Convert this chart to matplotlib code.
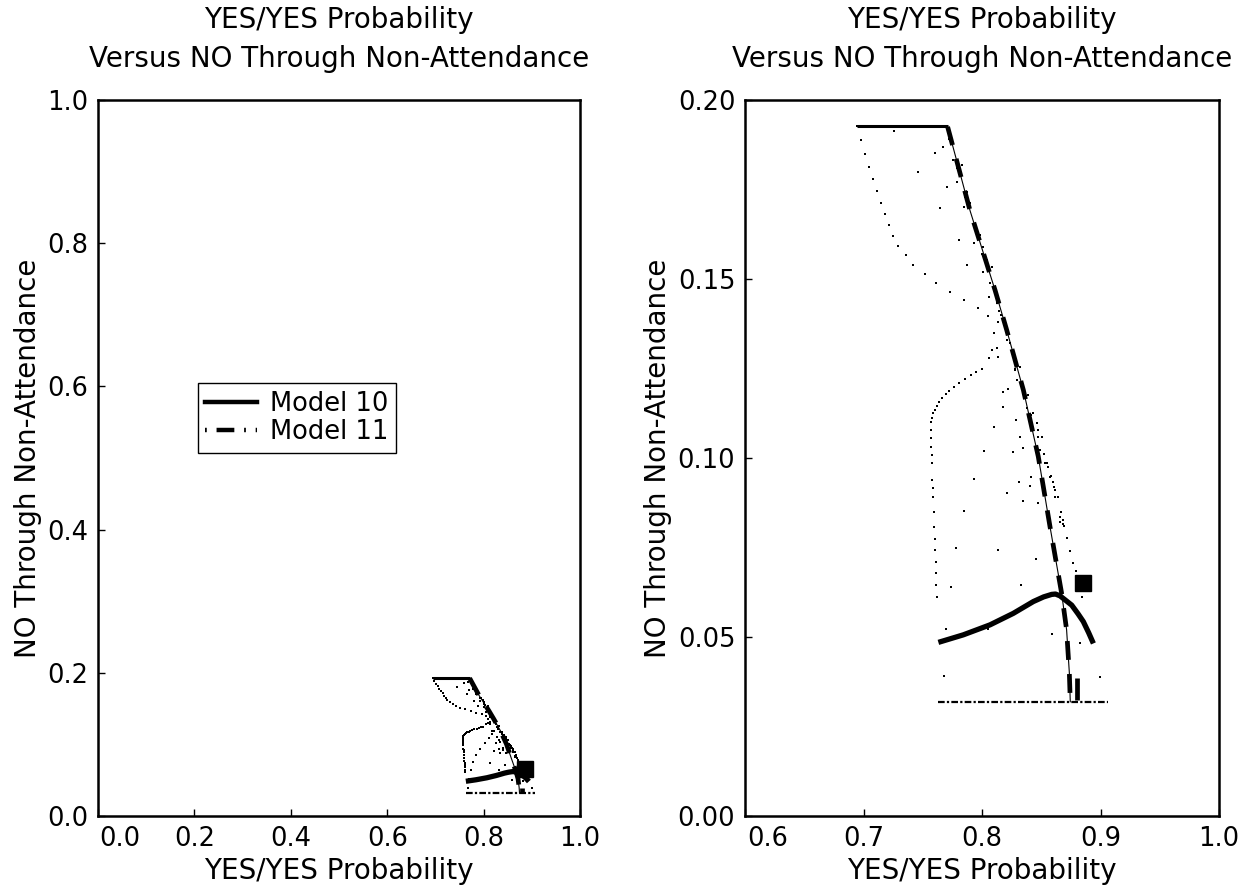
import numpy as np
import matplotlib
matplotlib.use("Agg")
import matplotlib.pyplot as plt
from matplotlib.lines import Line2D
import matplotlib.transforms as mtransforms

plt.rcParams['font.family'] = ['DejaVu Sans']

# ---------------- data ----------------
title_text = "YES/YES Probability\nVersus NO Through Non-Attendance"
xlabel_text = "YES/YES Probability"
ylabel_text = "NO Through Non-Attendance"
legend_labels = ["Model 10", "Model 11"]

# Model 10 (solid thick curve)
m10_x = [0.7632, 0.7842, 0.8068, 0.8264, 0.8433, 0.8520, 0.8588, 0.8620, 0.8658, 0.8700, 0.8757,
         0.8810, 0.8855, 0.8900, 0.8940]
m10_y = [0.0485, 0.0506, 0.0534, 0.0566, 0.0599, 0.0612, 0.0619, 0.0620, 0.0615, 0.0604, 0.0589,
         0.0565, 0.0543, 0.0512, 0.0482]

# Model 11 (dash-dot thick line)
m11_x = [0.7710, 0.7900, 0.8110, 0.8208, 0.8349, 0.8475, 0.8574, 0.8672, 0.8714, 0.8737, 0.8745]
m11_y = [0.1925, 0.1690, 0.1469, 0.1358, 0.1190, 0.1004, 0.0808, 0.0622, 0.0520, 0.0400, 0.0319]
m11_tail_x = [0.8799, 0.8799]
m11_tail_y = [0.0385, 0.0325]

# boundary lines
top_x = [0.6942, 0.7716]
top_y = [0.1928, 0.1928]
bot_x = [0.7632, 0.9060]
bot_y = [0.0319, 0.0319]

# observed point (square)
obs_x = [0.885]
obs_y = [0.065]

# dotted path 1 (from top-left sweeping down to the right)
p1_x = [0.6942, 0.6980, 0.7016, 0.7050, 0.7083, 0.7115, 0.7148, 0.7180, 0.7212, 0.7250, 0.7294,
        0.7355, 0.7421, 0.7515, 0.7615, 0.7730, 0.7851, 0.7963, 0.8053, 0.8100, 0.8124]
p1_y = [0.1928, 0.1888, 0.1849, 0.1813, 0.1778, 0.1745, 0.1713, 0.1682, 0.1651, 0.1621, 0.1593,
        0.1566, 0.1540, 0.1514, 0.1489, 0.1464, 0.1440, 0.1419, 0.1397, 0.1350, 0.1306]

# dotted path 2 (from the middle, left and down)
p2_x = [0.8124, 0.8060, 0.7997, 0.7950, 0.7904, 0.7856, 0.7809, 0.7766, 0.7724, 0.7694, 0.7665,
        0.7640, 0.7617, 0.7600, 0.7589, 0.7578, 0.7570, 0.7567, 0.7567, 0.7570, 0.7574, 0.7578,
        0.7581, 0.7585, 0.7589, 0.7593, 0.7598, 0.7602, 0.7606, 0.7609, 0.7612, 0.7615, 0.7617]
p2_y = [0.1306, 0.1278, 0.1250, 0.1241, 0.1232, 0.1221, 0.1210, 0.1199, 0.1188, 0.1178, 0.1167,
        0.1156, 0.1145, 0.1135, 0.1125, 0.1113, 0.1101, 0.1078, 0.1055, 0.1032, 0.1009, 0.0985,
        0.0939, 0.0915, 0.0892, 0.0850, 0.0808, 0.0775, 0.0743, 0.0710, 0.0678, 0.0645, 0.0613]

# dotted path 3 (right side, down to the square)
p3_x = [0.7720, 0.7790, 0.7860, 0.7930, 0.8000, 0.8070, 0.8140, 0.8210, 0.8280, 0.8350, 0.8410,
        0.8470, 0.8520, 0.8546, 0.8580, 0.8610, 0.8644, 0.8670, 0.8690, 0.8714, 0.8740, 0.8771,
        0.8795, 0.8813, 0.8841]
p3_y = [0.1890, 0.1810, 0.1730, 0.1650, 0.1570, 0.1490, 0.1410, 0.1330, 0.1250, 0.1180, 0.1120,
        0.1060, 0.1010, 0.0985, 0.0950, 0.0920, 0.0892, 0.0850, 0.0810, 0.0776, 0.0740, 0.0706,
        0.0685, 0.0669, 0.0613]

# scattered points
sc_x = [0.7260, 0.7457, 0.7603, 0.7674, 0.7702, 0.7646, 0.7809, 0.7876, 0.7758, 0.7828, 0.7871,
        0.7899, 0.7941, 0.7983, 0.8006, 0.8039, 0.8082, 0.8124, 0.8138, 0.8180, 0.8222, 0.8174,
        0.8104, 0.8287, 0.8321, 0.8349, 0.8264, 0.8020, 0.7932, 0.8315, 0.8411, 0.8405, 0.8208,
        0.8349, 0.8475, 0.7851, 0.8616, 0.8658, 0.8681, 0.7781, 0.8138, 0.8453, 0.8326, 0.7736,
        0.8588, 0.8053, 0.7696, 0.7682, 0.8827, 0.8996, 0.8490, 0.8532, 0.8560, 0.8574, 0.8602,
        0.8616, 0.8658, 0.8686, 0.8391, 0.8433, 0.8461, 0.8475, 0.8504, 0.8377, 0.8293, 0.8278,
        0.8321, 0.8138, 0.8082, 0.8264, 0.7790, 0.7845, 0.7930, 0.8010, 0.8060, 0.8160, 0.8240]
sc_y = [0.1913, 0.1800, 0.1851, 0.1870, 0.1756, 0.1697, 0.1609, 0.1539, 0.1832, 0.1818, 0.1744,
        0.1711, 0.1655, 0.1623, 0.1590, 0.1553, 0.1534, 0.1432, 0.1381, 0.1185, 0.1192, 0.1143,
        0.1086, 0.1106, 0.1058, 0.1027, 0.1018, 0.1020, 0.0941, 0.0934, 0.0948, 0.0923, 0.0901,
        0.0881, 0.0875, 0.0851, 0.0911, 0.0836, 0.0827, 0.0750, 0.0742, 0.0717, 0.0645, 0.0641,
        0.0508, 0.0522, 0.0523, 0.0392, 0.0482, 0.0389, 0.1022, 0.0985, 0.0976, 0.0948, 0.0934,
        0.0892, 0.0822, 0.0817, 0.1176, 0.1125, 0.1097, 0.1078, 0.1060, 0.1139, 0.1218, 0.1246,
        0.1255, 0.1283, 0.1302, 0.1283, 0.1770, 0.1700, 0.1600, 0.1520, 0.1450, 0.1400, 0.1320]

# ---------------- figure ----------------
W, H = 1251, 888
fig = plt.figure(figsize=(W / 100, H / 100), dpi=100)
ax1 = fig.add_axes([98 / W, 1 - 816 / H, 482 / W, 716 / H])
ax2 = fig.add_axes([745 / W, 1 - 816 / H, 474 / W, 716 / H])

FS = 18.5      # tick labels, legend
FS_T = 20      # titles, axis labels


def draw(ax):
    ax.plot(top_x, top_y, color='black', lw=2.2, solid_capstyle='butt', zorder=3)
    ax.plot(bot_x, bot_y, color='black', lw=1.6, linestyle=(0, (3, 1, 1, 1)), zorder=3)
    for px, py in ((p1_x, p1_y), (p2_x, p2_y), (p3_x, p3_y), (sc_x, sc_y)):
        ax.plot(px, py, linestyle='none', marker='s', ms=1.8, color='black', mew=0, zorder=3)
    ax.plot(m10_x, m10_y, color='black', lw=3.8, solid_capstyle='butt', zorder=4)
    ax.plot(m11_x, m11_y, color='black', lw=0.8, zorder=4)
    ax.plot(m11_x, m11_y, color='black', lw=3.4, linestyle=(0, (4, 3)), dash_capstyle='butt', zorder=4)
    ax.plot(m11_tail_x, m11_tail_y, color='black', lw=3.4, solid_capstyle='butt', zorder=4)
    ax.plot(obs_x, obs_y, linestyle='none', marker='s', ms=12, color='black', zorder=5)


def style(ax, xlim, ylim, xticks, yticks, xfmt, yfmt):
    ax.set_xlim(*xlim)
    ax.set_ylim(*ylim)
    ax.set_xticks(xticks)
    ax.set_yticks(yticks)
    ax.set_xticklabels([xfmt.format(v) for v in xticks])
    ax.set_yticklabels([yfmt.format(v) for v in yticks])
    for s in ax.spines.values():
        s.set_linewidth(1.8)
    ax.tick_params(direction='in', length=5, width=1.0, labelsize=FS, pad=7)
    ax.set_title(title_text, fontsize=FS_T, pad=24, linespacing=1.5)
    ax.set_xlabel(xlabel_text, fontsize=FS_T, labelpad=4)
    ax.set_ylabel(ylabel_text, fontsize=FS_T, labelpad=4)
    # shift the first x tick label right (as in the reference)
    lbl = ax.get_xticklabels()[0]
    lbl.set_transform(lbl.get_transform() + mtransforms.ScaledTranslation(16 / 72, 0, fig.dpi_scale_trans))


draw(ax1)
draw(ax2)
style(ax1, (0.0, 1.0), (0.0, 1.0), [0.0, 0.2, 0.4, 0.6, 0.8, 1.0], [0.0, 0.2, 0.4, 0.6, 0.8, 1.0],
      "{:.1f}", "{:.1f}")
style(ax2, (0.6, 1.0), (0.0, 0.2), [0.6, 0.7, 0.8, 0.9, 1.0], [0.0, 0.05, 0.10, 0.15, 0.20],
      "{:.1f}", "{:.2f}")

h10 = Line2D([], [], color='black', lw=3.2)
h11 = Line2D([], [], color='black', lw=3.2, linestyle=(0, (0.4, 2.2, 4, 2.2)), dash_capstyle='butt')
leg = ax1.legend([h10, h11], legend_labels, loc='upper left', bbox_to_anchor=(0.207, 0.605),
                 fontsize=FS, frameon=True, fancybox=False, framealpha=1, edgecolor='black',
                 handlelength=2.0, handletextpad=0.5, borderpad=0.3, labelspacing=0.1,
                 borderaxespad=0)
leg.get_frame().set_linewidth(1.0)

fig.savefig("out.png", dpi=100)
